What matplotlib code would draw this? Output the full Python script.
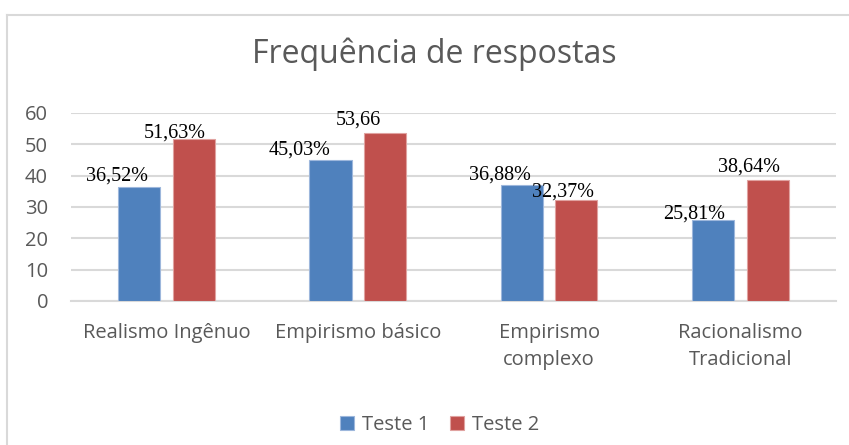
import numpy as np
import matplotlib
matplotlib.use("Agg")
import matplotlib.pyplot as plt
from matplotlib.lines import Line2D

categories = ["Realismo Ingênuo", "Empirismo básico", "Empirismo\ncomplexo", "Racionalismo\nTradicional"]
teste1 = [36.52, 45.03, 36.88, 25.81]
teste2 = [51.63, 53.66, 32.37, 38.64]
labels1 = ["36,52%", "45,03%", "36,88%", "25,81%"]
labels2 = ["51,63%", "53,66", "32,37%", "38,64%"]
yticks = [0, 10, 20, 30, 40, 50, 60]

# label offsets in pixels (dx, dy) as placed in the original
off1 = [(-22, 6), (-31, 5), (-22, 6), (-19, 2)]
off2 = [(-19, 2), (-27, 8), (-13, 3), (-19, 8)]

blue = "#4F81BD"
red = "#C0504D"
txt = "#595959"

plt.rcParams['font.family'] = ['Open Sans', 'DejaVu Sans']

fig = plt.figure(figsize=(8.49, 4.45), dpi=100)
ax = fig.add_axes([0.0836, 0.3236, 0.901, 0.4225])

x = np.arange(len(categories))
w = 0.22
b1 = ax.bar(x - 0.143, teste1, w, color=blue, edgecolor="#9DB7DC", linewidth=0.8, label="Teste 1", zorder=3)
b2 = ax.bar(x + 0.143, teste2, w, color=red, edgecolor="#E0A2A0", linewidth=0.8, label="Teste 2", zorder=3)

for bars, labs, offs in [(b1, labels1, off1), (b2, labels2, off2)]:
    for rect, lab, (dx, dy) in zip(bars, labs, offs):
        ax.annotate(lab, (rect.get_x() + rect.get_width() / 2, rect.get_height()),
                    xytext=(dx, dy), textcoords="offset pixels", ha="center", va="baseline",
                    family="Liberation Serif", fontsize=14.5, color="black", zorder=4)

ax.set_xlim(-0.5, len(categories) - 0.5)
ax.set_ylim(0, 60)
ax.set_yticks(yticks)
ax.set_xticks(x)
ax.set_xticklabels(categories, linespacing=1.45)
ax.tick_params(axis="both", length=0, labelsize=14.5, colors=txt)
ax.tick_params(axis="x", pad=16)
ax.tick_params(axis="y", pad=16.5)
ax.grid(axis="y", color="#D9D9D9", linewidth=1.5, zorder=0)
for s in ["top", "right", "left"]:
    ax.spines[s].set_visible(False)
ax.spines["bottom"].set_color("#D9D9D9")
ax.spines["bottom"].set_linewidth(1.5)

fig.text(0.512, 1 - 63 / 445, "Frequência de respostas", ha="center", va="baseline", fontsize=23, color=txt)

fig.legend(handles=[b1, b2], loc="center", bbox_to_anchor=(0.518, 0.045), ncol=2, frameon=False,
           fontsize=14.5, labelcolor=txt, handlelength=0.7, handleheight=0.7, handletextpad=0.4,
           columnspacing=1.0)

# outer chart frame (top and left edges visible)
fig.add_artist(Line2D([0.0081, 1.0], [1 - 15 / 445, 1 - 15 / 445], color="#D9D9D9", linewidth=1.5))
fig.add_artist(Line2D([0.0081, 0.0081], [0.0, 1 - 15 / 445], color="#D9D9D9", linewidth=1.5))

fig.savefig("out.png", dpi=100)
